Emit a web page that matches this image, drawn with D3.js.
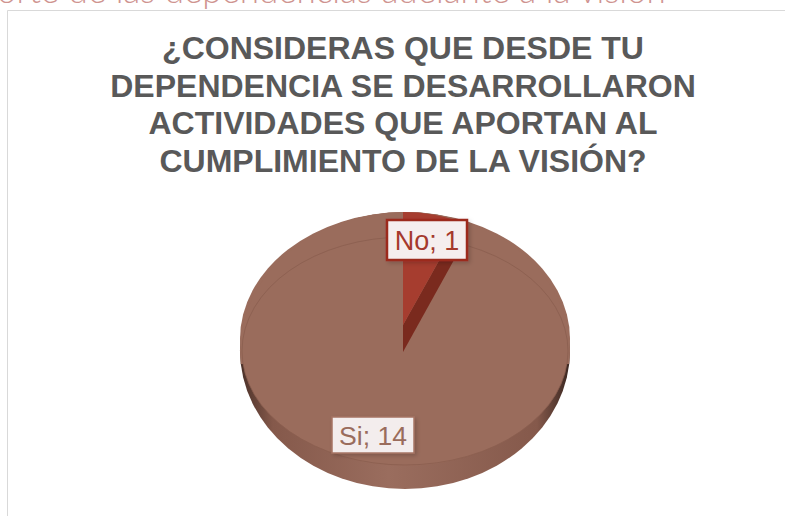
<!DOCTYPE html>
<html>
<head>
<meta charset="utf-8">
<style>
  html, body { margin: 0; padding: 0; background: #fff; overflow: hidden; }
  svg { display: block; }
  text { font-family: 'Liberation Sans', Arial, sans-serif; }
</style>
<script src="https://d3js.org/d3.v7.min.js"></script>
</head>
<body>
<div id="chart"></div>
<script>
  var headerText = "orte de las dependencias adelante a la visión";
  var titleLines = ["¿CONSIDERAS QUE DESDE TU", "DEPENDENCIA SE DESARROLLARON", "ACTIVIDADES QUE APORTAN AL", "CUMPLIMIENTO DE LA VISIÓN?"];
  var categories = ["No", "Si"];
  var values = [1, 14];

  var width = 785, height = 516;
  var svg = d3.select("#chart").append("svg").attr("width", width).attr("height", height);

  var defs = svg.append("defs");
  var side = defs.append("linearGradient").attr("id", "side");
  side.append("stop").attr("offset", "0").attr("stop-color", "#4a3028");
  side.append("stop").attr("offset", "0.1").attr("stop-color", "#85594b");
  side.append("stop").attr("offset", "0.45").attr("stop-color", "#9a6d5e");
  side.append("stop").attr("offset", "0.9").attr("stop-color", "#85594b");
  side.append("stop").attr("offset", "1").attr("stop-color", "#3a2620");

  defs.append("clipPath").attr("id", "upper").append("rect")
    .attr("x", 0).attr("y", 0).attr("width", width).attr("height", 364);

  var shadow = defs.append("filter").attr("id", "shadow").attr("x", "-20%").attr("y", "-20%").attr("width", "140%").attr("height", "140%");
  shadow.append("feDropShadow").attr("dx", 2).attr("dy", 2).attr("stdDeviation", 2).attr("flood-color", "#000").attr("flood-opacity", 0.18);

  // header cut off by the top of the page
  svg.append("text").attr("x", -3).attr("y", 3)
    .attr("font-size", 35).attr("font-weight", 300).attr("fill", "#cf9490")
    .style("font-family", "Lato, sans-serif")
    .text(headerText);

  // chart frame
  svg.append("path").attr("d", "M7.5,516V10.5H785").attr("fill", "none").attr("stroke", "#d9d9d9");

  svg.append("g").selectAll("text").data(titleLines).join("text")
    .attr("x", 403)
    .attr("y", function(d, i) { return 59 + i * 37.7; })
    .attr("text-anchor", "middle")
    .attr("font-size", 32)
    .attr("font-weight", 700)
    .attr("fill", "#595959")
    .text(function(d) { return d; });

  // 3D pie
  var cx = 404, rx = 164;
  var faceY = 351, faceRy = 114;
  var wedgeY = 325, wedgeRx = 142, wedgeRy = 113;

  var pie = d3.pie().sort(null).value(function(d) { return d; });
  var slices = pie(values);
  var unitArc = d3.arc().innerRadius(0).outerRadius(1);

  // silhouette
  svg.append("ellipse").attr("cx", cx + 1).attr("cy", 350.5).attr("rx", 165).attr("ry", 138.5)
    .attr("fill", "url(#side)");
  svg.append("ellipse").attr("cx", cx + 1).attr("cy", 339).attr("rx", 165).attr("ry", 127)
    .attr("fill", "#9a6c5c");
  svg.append("ellipse").attr("cx", cx + 1).attr("cy", 350.5).attr("rx", 165).attr("ry", 138.5)
    .attr("clip-path", "url(#upper)")
    .attr("fill", "#9a6c5c");
  svg.append("ellipse").attr("cx", cx + 1).attr("cy", faceY).attr("rx", rx - 1).attr("ry", faceRy)
    .attr("fill", "#9a6c5c").attr("stroke", "#8a5e4f").attr("stroke-width", 0.8);

  // wedge wall and top
  var end = slices[0].endAngle;
  var ex = Math.sin(end) * wedgeRx, ey = -Math.cos(end);
  svg.append("path")
    .attr("d", d3.line()([
      [cx - 1, wedgeY], [cx - 1 + ex, wedgeY + ey * wedgeRy],
      [cx - 1 + ex, faceY + ey * wedgeRy], [cx - 1, faceY + 1]
    ]) + "Z")
    .attr("fill", "#7a2a1e");
  svg.append("path")
    .attr("transform", "translate(" + (cx - 1) + "," + wedgeY + ") scale(" + wedgeRx + "," + wedgeRy + ")")
    .attr("d", unitArc(slices[0]))
    .attr("fill", "#a63d2f");

  // data labels
  var labelBoxes = [
    {x: 387, y: 220, w: 80, h: 40, fill: "#f5eeee", stroke: "#9c2a1c", sw: 2.5, color: "#a5392c", size: 27},
    {x: 332, y: 417, w: 82, h: 36, fill: "#f3eded", stroke: "#a67464", sw: 1.5, color: "#9a6c5c", size: 26.6}
  ];
  labelBoxes.forEach(function(b, i) {
    svg.append("rect").attr("x", b.x).attr("y", b.y).attr("width", b.w).attr("height", b.h)
      .attr("fill", b.fill).attr("stroke", b.stroke).attr("stroke-width", b.sw)
      .attr("filter", "url(#shadow)");
    svg.append("text").attr("x", b.x + b.w / 2).attr("y", b.y + b.h / 2 + 10)
      .attr("text-anchor", "middle").attr("font-size", b.size).attr("fill", b.color)
      .text(categories[i] + "; " + values[i]);
  });
</script>
</body>
</html>
